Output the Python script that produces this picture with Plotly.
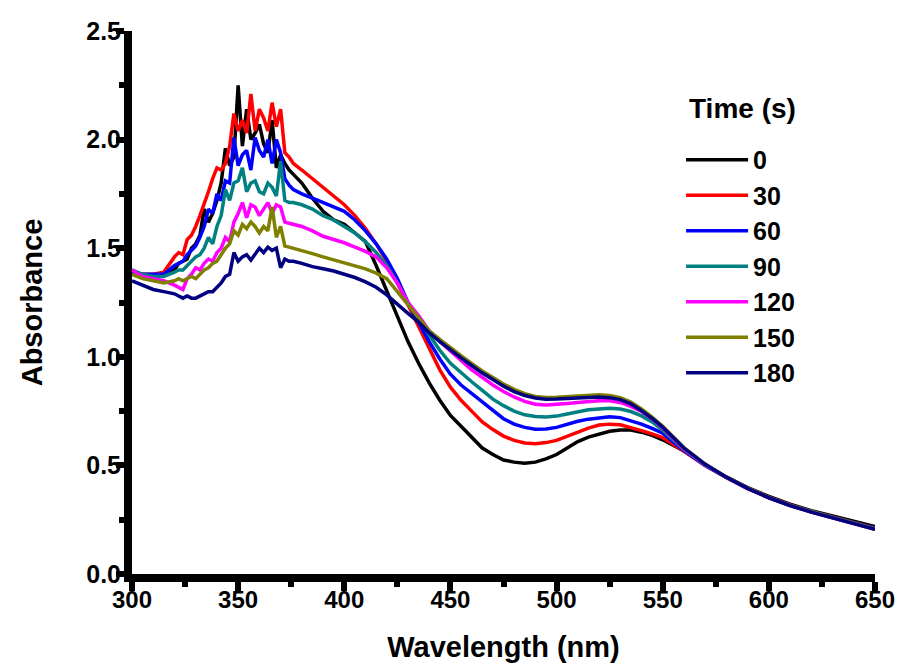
import plotly.graph_objects as go

wavelength = [300, 305, 310, 315, 320,
              322, 324, 326, 328, 330, 332, 334, 336, 338, 340,
              342, 344, 346, 348, 350, 352, 354, 356, 358, 360,
              362, 364, 366, 368, 370, 372, 374, 376,
              380, 385, 390, 395, 400, 405, 410, 415, 420, 425,
              430, 435, 440, 445, 450, 455, 460, 465, 470, 475,
              480, 485, 490, 495, 500, 505, 510, 515, 520, 525,
              530, 535, 540, 545, 550,
              560, 570, 580, 590, 600, 610, 620, 630, 640, 650]

abs_0 = [1.38, 1.37, 1.37, 1.38, 1.40,
         1.43, 1.44, 1.45, 1.50, 1.52, 1.56, 1.68, 1.62, 1.66, 1.72,
         1.80, 1.96, 1.88, 1.92, 2.25, 1.97, 2.14, 2.00, 2.03, 2.07,
         1.98, 1.94, 2.09, 1.87, 1.93, 1.89, 1.86, 1.84,
         1.80, 1.73, 1.67, 1.63, 1.61, 1.57, 1.53, 1.42, 1.30, 1.18,
         1.07, 0.97, 0.88, 0.80, 0.73, 0.68, 0.63, 0.58, 0.55, 0.525,
         0.515, 0.51, 0.515, 0.53, 0.55, 0.58, 0.61, 0.63, 0.645, 0.657,
         0.663, 0.663, 0.653, 0.638, 0.618,
         0.567, 0.502, 0.447, 0.398, 0.357, 0.322, 0.292, 0.267, 0.243, 0.218]

abs_30 = [1.39, 1.38, 1.38, 1.39, 1.46,
          1.48, 1.47, 1.54, 1.56, 1.60, 1.65, 1.70, 1.76, 1.82, 1.87,
          1.86, 1.89, 1.97, 2.12, 2.04, 2.09, 2.03, 2.21, 2.04, 2.14,
          2.10, 2.04, 2.17, 2.06, 2.14, 1.94, 1.92, 1.89,
          1.86, 1.82, 1.78, 1.74, 1.70, 1.65, 1.59, 1.52, 1.44, 1.34,
          1.24, 1.14, 1.04, 0.94, 0.86, 0.80, 0.75, 0.70, 0.665, 0.635,
          0.615, 0.603, 0.60, 0.605, 0.615, 0.635, 0.655, 0.672, 0.686, 0.69,
          0.687, 0.675, 0.66, 0.645, 0.628,
          0.565, 0.50, 0.444, 0.395, 0.353, 0.318, 0.288, 0.262, 0.238, 0.212]

abs_60 = [1.39, 1.38, 1.38, 1.38, 1.42,
          1.43, 1.44, 1.47, 1.49, 1.51, 1.55, 1.60, 1.68, 1.66, 1.75,
          1.72, 1.81, 1.80, 2.01, 1.88, 1.93, 1.95, 1.86, 2.01, 1.95,
          1.92, 2.00, 1.89, 2.00, 1.94, 1.82, 1.79, 1.77,
          1.75, 1.73, 1.71, 1.69, 1.67, 1.63, 1.58, 1.52, 1.45, 1.36,
          1.25, 1.16, 1.07, 0.99, 0.92, 0.87, 0.83, 0.79, 0.75, 0.715,
          0.69, 0.675, 0.667, 0.668, 0.675, 0.69, 0.703, 0.713, 0.72, 0.724,
          0.72, 0.707, 0.69, 0.67, 0.648,
          0.568, 0.50, 0.444, 0.394, 0.352, 0.317, 0.287, 0.261, 0.237, 0.21]

abs_90 = [1.40, 1.38, 1.37, 1.37, 1.39,
          1.40, 1.40, 1.42, 1.44, 1.46, 1.47, 1.50, 1.55, 1.52, 1.60,
          1.65, 1.77, 1.72, 1.80, 1.81, 1.87, 1.76, 1.80, 1.81, 1.76,
          1.75, 1.80, 1.78, 1.74, 1.90, 1.72, 1.71, 1.71,
          1.70, 1.68, 1.65, 1.63, 1.60, 1.57, 1.53, 1.48, 1.42, 1.34,
          1.25, 1.18, 1.10, 1.03, 0.97, 0.925, 0.885, 0.845, 0.805, 0.775,
          0.75, 0.733, 0.725, 0.723, 0.727, 0.737, 0.748, 0.756, 0.76, 0.763,
          0.76, 0.748, 0.728, 0.70, 0.662,
          0.572, 0.502, 0.444, 0.394, 0.352, 0.316, 0.286, 0.26, 0.235, 0.208]

abs_120 = [1.40, 1.37, 1.36, 1.35, 1.33,
           1.32, 1.31, 1.36, 1.38, 1.41, 1.40, 1.43, 1.45, 1.44, 1.48,
           1.50, 1.55, 1.53, 1.62, 1.66, 1.71, 1.64, 1.70, 1.69, 1.65,
           1.68, 1.71, 1.66, 1.70, 1.69, 1.62, 1.615, 1.61,
           1.60, 1.58, 1.555, 1.54, 1.525, 1.505, 1.485, 1.46, 1.41, 1.34,
           1.25, 1.19, 1.12, 1.07, 1.025, 0.98, 0.94, 0.905, 0.87, 0.84,
           0.815, 0.795, 0.782, 0.778, 0.78, 0.785, 0.79, 0.795, 0.798, 0.798,
           0.79, 0.772, 0.748, 0.715, 0.672,
           0.576, 0.503, 0.444, 0.393, 0.351, 0.315, 0.285, 0.258, 0.233, 0.206]

abs_150 = [1.38, 1.36, 1.35, 1.34, 1.35,
           1.36, 1.35, 1.36, 1.37, 1.36, 1.38, 1.40, 1.41, 1.43, 1.44,
           1.47, 1.50, 1.52, 1.58, 1.56, 1.61, 1.59, 1.62, 1.60, 1.57,
           1.60, 1.58, 1.69, 1.55, 1.60, 1.51, 1.505, 1.50,
           1.49, 1.475, 1.46, 1.447, 1.435, 1.42, 1.405, 1.385, 1.36, 1.30,
           1.24, 1.18, 1.12, 1.08, 1.04, 1.005, 0.97, 0.935, 0.905, 0.875,
           0.85, 0.83, 0.817, 0.813, 0.814, 0.817, 0.82, 0.824, 0.825, 0.822,
           0.812, 0.792, 0.76, 0.722, 0.68,
           0.582, 0.506, 0.446, 0.395, 0.352, 0.316, 0.286, 0.259, 0.234, 0.207]

abs_180 = [1.35, 1.33, 1.31, 1.30, 1.29,
           1.28, 1.27, 1.28, 1.27, 1.27, 1.28, 1.29, 1.30, 1.30, 1.32,
           1.34, 1.37, 1.38, 1.48, 1.44, 1.46, 1.47, 1.445, 1.47, 1.50,
           1.48, 1.505, 1.49, 1.50, 1.41, 1.45, 1.44, 1.44,
           1.43, 1.415, 1.405, 1.395, 1.38, 1.365, 1.345, 1.32, 1.285, 1.24,
           1.20, 1.16, 1.11, 1.07, 1.03, 0.995, 0.96, 0.925, 0.895, 0.865,
           0.84, 0.822, 0.81, 0.805, 0.806, 0.809, 0.812, 0.815, 0.815, 0.812,
           0.803, 0.783, 0.752, 0.716, 0.676,
           0.58, 0.505, 0.445, 0.394, 0.351, 0.315, 0.285, 0.258, 0.233, 0.206]

series_names = ["0", "30", "60", "90", "120", "150", "180"]
series_values = [abs_0, abs_30, abs_60, abs_90, abs_120, abs_150, abs_180]
series_colors = ["#000000", "#FF0000", "#0000FF", "#008080", "#FF00FF", "#808000", "#000080"]

x_ticks = [300, 350, 400, 450, 500, 550, 600, 650]
y_ticks = [0.0, 0.5, 1.0, 1.5, 2.0, 2.5]
y_tick_labels = ["0.0", "0.5", "1.0", "1.5", "2.0", "2.5"]

FONT = "Liberation Sans, Arial, sans-serif"

fig = go.Figure()
for name, vals, col in zip(series_names, series_values, series_colors):
    fig.add_trace(go.Scatter(x=wavelength, y=vals, mode="lines", name=name,
                             line=dict(color=col, width=3.5)))

fig.update_layout(
    template="none",
    width=904, height=669,
    margin=dict(l=132, r=29, t=31, b=95),
    paper_bgcolor="white", plot_bgcolor="white",
    font=dict(family=FONT, color="black"),
    legend=dict(x=0.739, y=0.805, xanchor="left", yanchor="top",
                font=dict(family=FONT, size=25, weight="bold"),
                itemwidth=62, tracegroupgap=0, bgcolor="rgba(0,0,0,0)", borderwidth=0),
    annotations=[dict(text="<b>Time (s)</b>", xref="paper", yref="paper",
                      x=0.7465, y=0.857, xanchor="left", yanchor="middle",
                      showarrow=False, font=dict(family=FONT, size=28))],
)
fig.update_xaxes(range=[300, 650], tickvals=x_ticks, automargin=False,
                 showline=True, linewidth=8, linecolor="#000000", layer="above traces",
                 ticks="outside", ticklen=9, tickwidth=6, tickcolor="#000000",
                 minor=dict(dtick=25, tick0=300, ticks="outside", ticklen=5, tickwidth=6, tickcolor="#000000"),
                 showgrid=False, zeroline=False, ticklabelstandoff=-12,
                 tickfont=dict(family=FONT, size=24, weight="bold"),
                 title=dict(text="Wavelength (nm)", font=dict(family=FONT, size=29, weight="bold"), standoff=28))
fig.update_yaxes(range=[0, 2.5], tickvals=y_ticks, ticktext=y_tick_labels, automargin=False,
                 showline=True, linewidth=8, linecolor="#000000", layer="above traces",
                 ticks="outside", ticklen=8, tickwidth=6, tickcolor="#000000",
                 minor=dict(dtick=0.25, tick0=0, ticks="outside", ticklen=5, tickwidth=6, tickcolor="#000000"),
                 showgrid=False, zeroline=False, ticklabelstandoff=-10,
                 tickfont=dict(family=FONT, size=25, weight="bold"),
                 title=dict(text="Absorbance", font=dict(family=FONT, size=29, weight="bold"), standoff=38))

fig.write_html("out.html")
